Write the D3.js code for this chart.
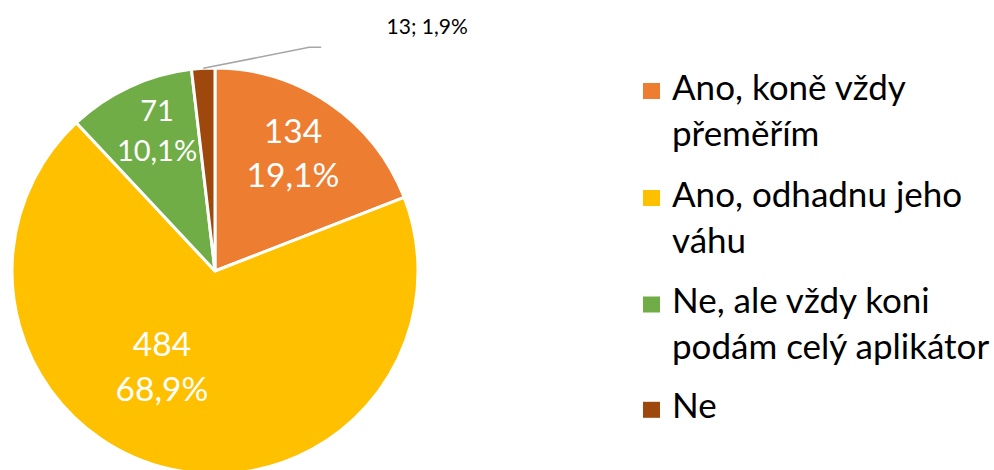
<!DOCTYPE html>
<html><head><meta charset="utf-8">
<script src="https://cdn.jsdelivr.net/npm/d3@7"></script>
<style>body{margin:0;background:#fff}svg{display:block}</style>
</head><body>
<svg id="c" width="994" height="470"></svg>
<script>
const categories = ["Ano, koně vždy přeměřím", "Ano, odhadnu jeho váhu", "Ne, ale vždy koni podám celý aplikátor", "Ne"];
const values = [134, 484, 71, 13];
const percentLabels = ["19,1%", "68,9%", "10,1%", "1,9%"];
const legendLines = [["Ano, koně vždy", "přeměřím"], ["Ano, odhadnu jeho", "váhu"], ["Ne, ale vždy koni", "podám celý aplikátor"], ["Ne"]];
const colors = ["#ED7D31", "#FFC000", "#70AD47", "#9E480E"];

const svg = d3.select("#c");
const cx = 215, cy = 271, R = 203;
const font = "Lato, 'Open Sans', sans-serif";

const pie = d3.pie().sort(null).value(d => d)(values);
const arc = d3.arc().innerRadius(0).outerRadius(R);
const g = svg.append("g").attr("transform", `translate(${cx},${cy})`);
g.selectAll("path").data(pie).join("path")
  .attr("d", arc).attr("fill", (d, i) => colors[i])
  .attr("stroke", "#fff").attr("stroke-width", 3).attr("stroke-linejoin", "round");

// inside labels (position = polar from slice mid-angle)
const labelCfg = [{r: 140.6, da: -0.012, fs: 33.5, lh: 44}, {r: 110, da: 0.28, fs: 33.5, lh: 45}, {r: 151.7, da: 0.042, fs: 29, lh: 40}];
pie.slice(0, 3).forEach((d, i) => {
  const c = labelCfg[i];
  const a = (d.startAngle + d.endAngle) / 2 + c.da;
  const x = c.r * Math.sin(a), y = -c.r * Math.cos(a);
  const capH = c.fs * 0.68;
  const t = g.append("text").attr("text-anchor", "middle").attr("fill", "#fff")
    .style("font-family", font).style("font-size", c.fs + "px");
  t.append("tspan").attr("x", x).attr("y", y - c.lh / 2 + capH / 2).text(values[i]);
  t.append("tspan").attr("x", x).attr("y", y + c.lh / 2 + capH / 2).text(percentLabels[i]);
});

// outside label for small slice
const small = pie[3];
const ma = (small.startAngle + small.endAngle) / 2;
const p0 = [R * Math.sin(ma), -R * Math.cos(ma)];
const p1 = [p0[0] + 106, p0[1] - 21];
const p2 = [p1[0] + 12, p1[1]];
g.append("polyline").attr("points", [p0, p1, p2].map(p => p.join(",")).join(" "))
  .attr("fill", "none").attr("stroke", "#A6A6A6").attr("stroke-width", 1.5);
g.append("text").attr("x", p2[0] + 106).attr("y", p2[1] - 13).attr("text-anchor", "middle")
  .style("font-family", font).style("font-size", "21px").attr("fill", "#000")
  .text(values[3] + "; " + percentLabels[3]);

// legend
const legY = [99.5, 206.5, 313, 418.3];
const lg = svg.append("g");
legendLines.forEach((lines, i) => {
  lg.append("rect").attr("x", 643).attr("y", legY[i] - 16.5).attr("width", 17).attr("height", 16).attr("fill", colors[i]);
  const t = lg.append("text").style("font-family", font).style("font-size", "35px").attr("fill", "#000");
  lines.forEach((l, j) => t.append("tspan").attr("x", 672).attr("y", legY[i] + j * 46).text(l));
});
</script>
</body></html>
